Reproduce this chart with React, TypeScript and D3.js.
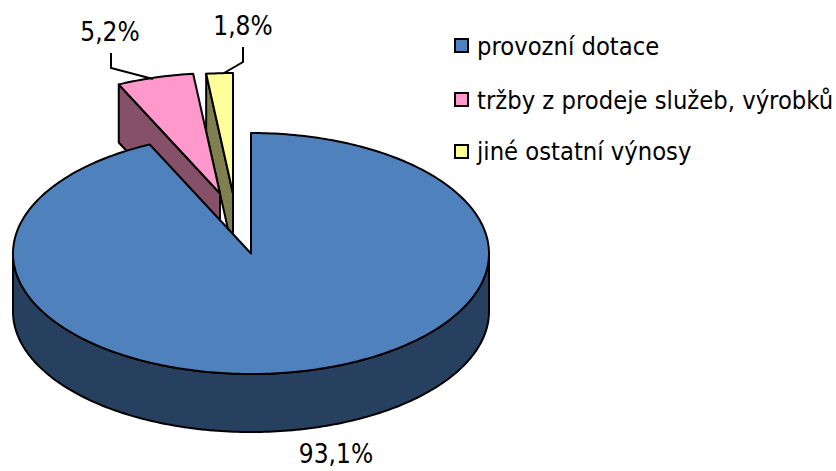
import React from "react";
import * as d3 from "d3";

const categories = ["provozní dotace", "tržby z prodeje služeb, výrobků", "jiné ostatní výnosy"];
const values = [93.1, 5.2, 1.8];
const valueLabels = ["93,1%", "5,2%", "1,8%"];
const topColors = ["#4F81BD", "#FF99CC", "#FFFF99"];
const wallColors = ["#27405F", "#875069", "#80804F"];

const W = 836, H = 471;
const CX = 251, CY = 253.5, RX = 238, RY = 120.5, DEPTH = 58;
const explodeOffsets = [[0, 0], [-31, -60], [-18, -60]];
const legendRows = [{ box: 39, text: 55 }, { box: 93, text: 109 }, { box: 145, text: 160 }];
const font = "'DejaVu Sans Condensed', 'DejaVu Sans', sans-serif";

const pieGen = d3.pie<number>().sort(null).value((d) => d).startAngle(0).endAngle(2 * Math.PI);
const xS = d3.scaleLinear().domain([-1, 1]).range([CX - RX, CX + RX]);
const yS = d3.scaleLinear().domain([-1, 1]).range([CY + RY, CY - RY]);
const line = d3.line<[number, number]>();

function rim(a0: number, a1: number, dx: number, dy: number): [number, number][] {
  const n = Math.max(2, Math.ceil(Math.abs(a1 - a0) * 60));
  return d3.range(n + 1).map((i) => {
    const a = a0 + ((a1 - a0) * i) / n;
    return [xS(Math.sin(a)) + dx, yS(Math.cos(a)) + dy] as [number, number];
  });
}

export default function App() {
  const arcs = pieGen(values);
  const order = [2, 1, 0];
  return (
    <svg width={W} height={H} style={{ position: "absolute", left: 0, top: 0, background: "#fff" }} fontFamily={font}>
      {order.map((i) => {
        const s = arcs[i];
        const [dx, dy] = explodeOffsets[i];
        const apex: [number, number] = [CX + dx, CY + dy];
        const top = rim(s.startAngle, s.endAngle, dx, dy);
        const shift = (p: [number, number]): [number, number] => [p[0], p[1] + DEPTH];
        const stroke = { stroke: "#000", strokeWidth: 2, strokeLinejoin: "round" as const };
        const walls =
          i === 0
            ? (() => {
                const front = rim(Math.PI / 2, (3 * Math.PI) / 2, dx, dy);
                return line([...front, ...front.slice().reverse().map(shift)]) + "Z";
              })()
            : (() => {
                const start = top[0];
                return line([start, apex, shift(apex), shift(start)]) + "Z";
              })();
        return (
          <g key={i}>
            <path d={walls} fill={wallColors[i]} {...stroke} />
            <path d={line([apex, ...top]) + "Z"} fill={topColors[i]} {...stroke} />
          </g>
        );
      })}
      <path d={line([[111, 53], [111, 68], [153, 79]])!} fill="none" stroke="#000" strokeWidth={2} />
      <path d={line([[243, 47], [243, 62], [224, 73]])!} fill="none" stroke="#000" strokeWidth={2} />
      <g fontSize={26} fill="#000">
        <text x={336} y={463} textAnchor="middle">{valueLabels[0]}</text>
        <text x={110} y={41} textAnchor="middle">{valueLabels[1]}</text>
        <text x={243} y={35} textAnchor="middle">{valueLabels[2]}</text>
      </g>
      {categories.map((c, i) => (
        <g key={c}>
          <rect x={455} y={legendRows[i].box} width={13} height={13} fill={topColors[i]} stroke="#000" strokeWidth={2} />
          <text x={477} y={legendRows[i].text} fontSize={25.3} fill="#000">{c}</text>
        </g>
      ))}
    </svg>
  );
}
